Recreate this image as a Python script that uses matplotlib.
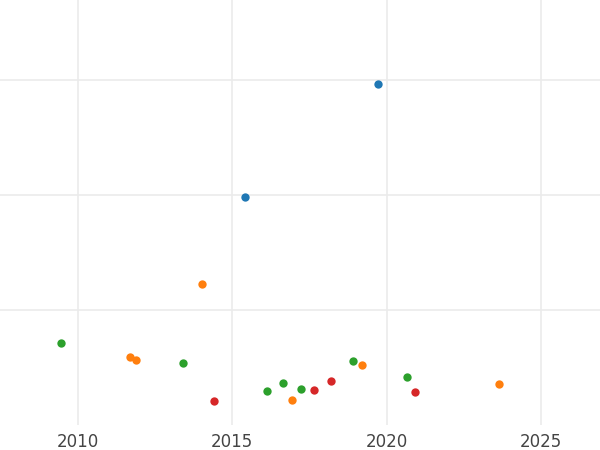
import matplotlib
matplotlib.use("Agg")
import matplotlib.pyplot as plt

blue_x = [2019.71, 2015.40]
blue_y = [2.965, 1.983]
orange_x = [2014.01, 2011.68, 2011.88, 2019.19, 2016.93, 2023.62]
orange_y = [1.226, 0.591, 0.565, 0.522, 0.217, 0.357]
green_x = [2009.45, 2013.40, 2016.12, 2016.63, 2017.22, 2018.90, 2020.65]
green_y = [0.713, 0.539, 0.296, 0.365, 0.313, 0.557, 0.417]
red_x = [2014.40, 2017.64, 2018.19, 2020.91]
red_y = [0.209, 0.304, 0.383, 0.287]
xticks = [2010, 2015, 2020, 2025]
yticks = [1, 2, 3]

fig = plt.figure(figsize=(6, 4.5), dpi=100)
ax = fig.add_axes([0, 0.056, 1, 0.944])
for xs, ys, c in [(blue_x, blue_y, "#1f77b4"), (orange_x, orange_y, "#ff7f0e"),
                  (green_x, green_y, "#2ca02c"), (red_x, red_y, "#d62728")]:
    ax.scatter(xs, ys, s=36, color=c, zorder=3, linewidths=0)
ax.set_xlim(2007.48, 2026.9)
ax.set_ylim(0.0, 3.70)
ax.set_xticks(xticks)
ax.set_yticks(yticks)
ax.set_yticklabels([])
ax.grid(True, color="#ebebeb", linewidth=1.2)
for s in ax.spines.values():
    s.set_visible(False)
ax.tick_params(length=0, labelsize=12, labelcolor="#444444", pad=6)
fig.savefig("out.png")
